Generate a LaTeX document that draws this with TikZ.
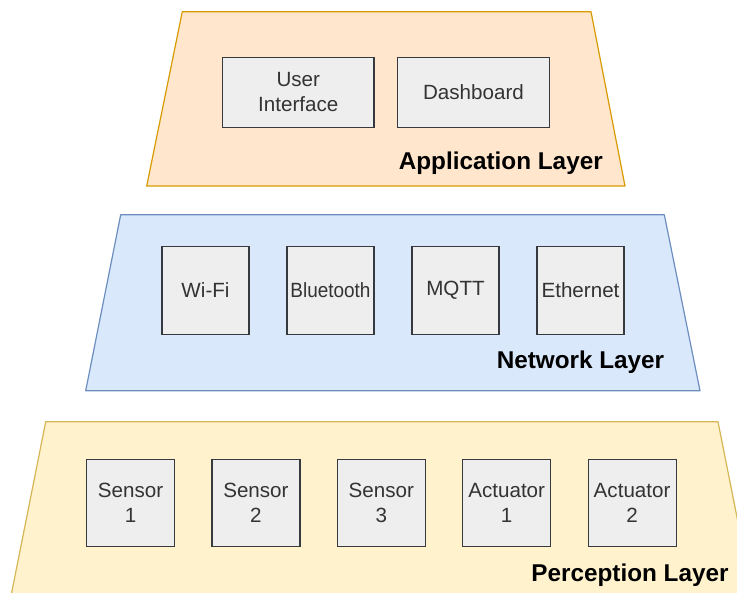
\documentclass[tikz,border=0pt]{standalone}
\usepackage{fontspec}
\setmainfont{Liberation Sans}
\definecolor{appfill}{HTML}{FFE6CC}
\definecolor{appline}{HTML}{D79B00}
\definecolor{netfill}{HTML}{DAE8FC}
\definecolor{netline}{HTML}{6C8EBF}
\definecolor{perfill}{HTML}{FFF2CC}
\definecolor{perline}{HTML}{D6B656}
\definecolor{boxfill}{HTML}{EEEEEE}
\definecolor{boxline}{HTML}{36393D}
\definecolor{boxtext}{HTML}{333333}
\tikzset{
  layer/.style={line width=1.2pt, line join=round},
  compbox/.style={draw=boxline, fill=boxfill, line width=1.2pt, inner sep=0pt,
    align=center, text=boxtext, font=\fontsize{20.6}{25}\selectfont},
  layerlabel/.style={font=\fontsize{24.3}{29}\selectfont\bfseries, text=black, inner sep=0pt},
}
\begin{document}
\begin{tikzpicture}[x=1pt,y=-1pt]
\useasboundingbox (0,0) rectangle (737,593);
% Application layer
\draw[layer, draw=appline, fill=appfill] (182.3,11.7) -- (591,11.7) -- (625,186) -- (146.7,186) -- cycle;
\node[compbox, minimum width=151.3pt, minimum height=70pt] (ui) at (298.3,92.3) {User\\Interface};
\node[compbox, minimum width=151.6pt, minimum height=70pt] (dash) at (473.5,92.3) {Dashboard};
\node[layerlabel] (applbl) at (500.8,163) {Application Layer};
% Network layer
\draw[layer, draw=netline, fill=netfill] (120.7,214.7) -- (664.3,214.7) -- (700,390.7) -- (85.7,390.7) -- cycle;
\node[compbox, minimum width=87pt, minimum height=87.6pt] (wifi) at (205.5,290.5) {Wi-Fi};
\node[compbox, minimum width=87pt, minimum height=87.6pt] (bt) at (330.5,290.5) {\scalebox{0.92}[1]{Bluetooth}};
\node[compbox, minimum width=87pt, minimum height=87.6pt] (mqtt) at (455.5,290.5) {MQTT\vphantom{y}};
\node[compbox, minimum width=87pt, minimum height=87.6pt] (eth) at (580.5,290.5) {Ethernet};
\node[layerlabel] (netlbl) at (580.5,362) {Network Layer};
% Perception layer
\draw[layer, draw=perline, fill=perfill] (45.7,421.7) -- (718,421.7) -- (753.5,600) -- (10.2,600) -- cycle;
\node[compbox, minimum width=88pt, minimum height=87pt] (s1) at (130.5,503) {Sensor\\1};
\node[compbox, minimum width=88pt, minimum height=87pt] (s2) at (255.9,503) {Sensor\\2};
\node[compbox, minimum width=88pt, minimum height=87pt] (s3) at (381.3,503) {Sensor\\3};
\node[compbox, minimum width=88pt, minimum height=87pt] (a1) at (506.7,503) {Actuator\\1};
\node[compbox, minimum width=88pt, minimum height=87pt] (a2) at (632.1,503) {Actuator\\2};
\node[layerlabel] (perlbl) at (630,575.5) {Perception Layer};
\end{tikzpicture}
\end{document}
